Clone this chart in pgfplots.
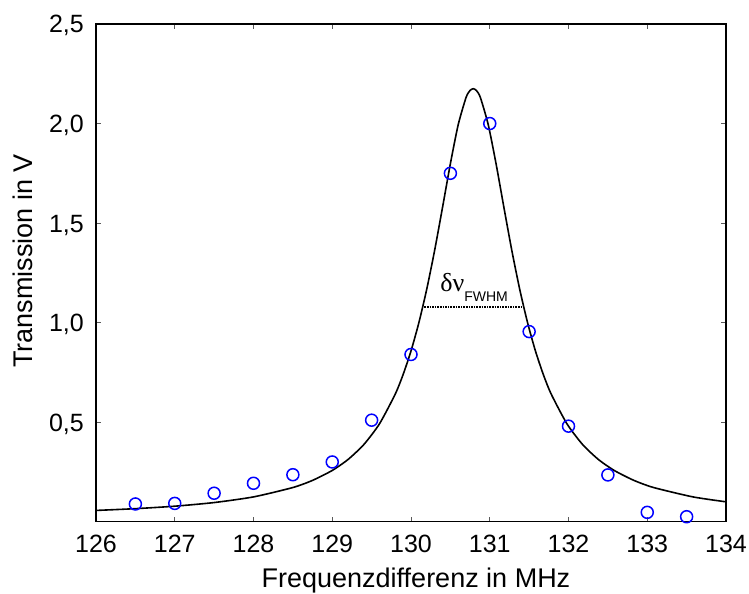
\documentclass[border=0pt]{standalone}
\usepackage{fontspec}
\setmainfont{Liberation Sans}
\newfontfamily\serifgreek{Liberation Serif}
\usepackage{pgfplots}
\pgfplotsset{compat=1.18}
\begin{document}
\begin{tikzpicture}
\begin{axis}[
  scale only axis,
  width=630pt, height=497.7pt,
  xmin=126, xmax=134, ymin=0, ymax=2.5,
  xtick={126,127,...,134},
  ytick={0.5,1.0,1.5,2.0,2.5},
  tick align=inside,
  major tick length=5pt,
  tick style={gray!70!black, line width=0.8pt},
  axis line style={line width=1.2pt},
  /pgf/number format/assume math mode=true,
  yticklabel style={/pgf/number format/.cd, use comma, fixed, fixed zerofill, precision=1,
     /tikz/.cd, anchor=base east, inner sep=0pt, xshift=-12pt, yshift=-9pt},
  xticklabel style={/pgf/number format/.cd, fixed, precision=0, 1000 sep={},
     /tikz/.cd, anchor=base, inner sep=0pt, yshift=-30.5pt},
  tick label style={font=\fontsize{25}{29}\selectfont},
  label style={font=\fontsize{27}{31}\selectfont},
  xlabel={Frequenzdifferenz in MHz},
  ylabel={Transmission in V},
  xlabel style={at={(axis description cs:0.5079,-0.133)}, anchor=base, inner sep=0pt},
  ylabel style={at={(axis description cs:-0.1,0.524)}, anchor=base, inner sep=0pt},
  clip=true,
]
\addplot[black, line width=1.6pt, smooth, tension=0.4] coordinates {
(126,0.0566)(126.5,0.0655)(127,0.0779)(127.5,0.0962)(128,0.1246)(128.5,0.1717)
(128.75,0.2076)(129,0.2575)(129.2,0.3124)(129.4,0.3872)(129.6,0.4918)(129.8,0.6412)
(129.9,0.7394)(130,0.8577)(130.1,0.9998)(130.2,1.1681)(130.3,1.3628)(130.4,1.5780)
(130.5,1.7982)(130.6,1.9952)(130.7,2.1319)(130.75,2.1663)(130.79,2.175)(130.83,2.1663)
(130.88,2.1319)(130.98,1.9952)(131.08,1.7982)(131.18,1.5780)(131.28,1.3628)
(131.38,1.1681)(131.48,0.9998)(131.58,0.8577)(131.68,0.7394)(131.78,0.6412)
(131.98,0.4918)(132.18,0.3872)(132.38,0.3124)(132.58,0.2575)(132.83,0.2076)
(133.08,0.1717)(133.58,0.1246)(134,0.0999)
};
\addplot[only marks, mark=o, mark size=6pt, mark options={blue, line width=1.5pt}] coordinates {
(126.5,0.089)(127,0.092)(127.5,0.143)(128,0.193)(128.5,0.236)(129,0.30)
(129.5,0.51)(130,0.84)(130.5,1.75)(131,2.0)(131.5,0.955)(132,0.48)
(132.5,0.235)(133,0.047)(133.5,0.025)
};
\addplot[black, line width=1.6pt, dash pattern=on 1.6pt off 1pt] coordinates {(130.17,1.079)(131.43,1.079)};
\node[anchor=base west, inner sep=0pt] at (axis cs:130.37,1.154)
  {\fontsize{26}{30}\selectfont\serifgreek δν\raisebox{-10pt}{\normalfont\fontsize{14}{16}\selectfont FWHM}};
\coordinate (o) at (rel axis cs:0,0);
\coordinate (e) at (rel axis cs:1,1);
\end{axis}
\pgfresetboundingbox
\path[use as bounding box] ([shift={(-96pt,-71.3pt)}]o) rectangle ([shift={(23pt,24pt)}]e);
\end{tikzpicture}
\end{document}
